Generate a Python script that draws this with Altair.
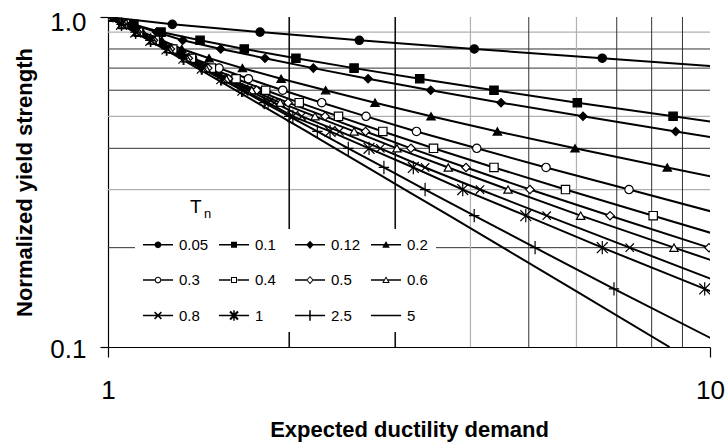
import altair as alt
import pandas as pd

FONT = "Liberation Sans, Arial, Helvetica, sans-serif"

# ---- data ------------------------------------------------------------------
series_names = ["0.05", "0.1", "0.12", "0.2", "0.3", "0.4", "0.5", "0.6",
                "0.8", "1", "2.5", "5"]

# normalized yield strength levels (one data point per level)
strength_levels = [1.0, 0.95, 0.9, 0.85, 0.8, 0.75, 0.7, 0.65, 0.6, 0.55,
                   0.5, 0.45, 0.4, 0.35, 0.3, 0.25, 0.2, 0.15, 0.1]

# expected ductility demand reached at each strength level, per period Tn
mu_005 = [1.0, 1.279, 1.789, 2.615, 4.059, 6.623, 11.1]
mu_010 = [1.0, 1.104, 1.225, 1.422, 1.684, 2.052, 2.563, 3.295, 4.377, 6.020,
          8.683, 13.02]
mu_012 = [1.0, 1.095, 1.204, 1.331, 1.539, 1.823, 2.193, 2.704, 3.436, 4.496,
          6.152, 8.770, 13.03]
mu_020 = [1.0, 1.067, 1.142, 1.228, 1.326, 1.472, 1.672, 1.939, 2.299, 2.777,
          3.440, 4.434, 5.967, 8.492, 12.76]
mu_030 = [1.0, 1.060, 1.126, 1.201, 1.286, 1.382, 1.529, 1.711, 1.951, 2.265,
          2.683, 3.254, 4.098, 5.341, 7.336, 10.67]
mu_040 = [1.0, 1.059, 1.124, 1.198, 1.281, 1.376, 1.485, 1.632, 1.828, 2.078,
          2.415, 2.861, 3.473, 4.377, 5.754, 8.047, 12.13]
mu_050 = [1.0, 1.057, 1.119, 1.190, 1.270, 1.360, 1.465, 1.586, 1.766, 1.991,
          2.294, 2.678, 3.186, 3.933, 5.023, 6.823, 9.961, 16.33]
mu_060 = [1.0, 1.055, 1.117, 1.186, 1.264, 1.352, 1.454, 1.572, 1.733, 1.932,
          2.207, 2.563, 3.020, 3.675, 4.618, 6.098, 8.714, 13.96]
mu_080 = [1.0, 1.054, 1.115, 1.182, 1.258, 1.345, 1.444, 1.558, 1.707, 1.888,
          2.098, 2.423, 2.834, 3.363, 4.149, 5.355, 7.356, 11.09]
mu_100 = [1.0, 1.053, 1.112, 1.178, 1.253, 1.337, 1.434, 1.545, 1.675, 1.845,
          2.028, 2.338, 2.714, 3.215, 3.884, 4.943, 6.623, 9.799, 17.22]
mu_250 = [1.0, 1.053, 1.111, 1.176, 1.250, 1.333, 1.429, 1.538, 1.667, 1.818,
          2.000, 2.227, 2.507, 2.873, 3.363, 4.058, 5.122, 6.926, 10.72]
mu_500 = [1.0, 1.051, 1.107, 1.169, 1.239, 1.317, 1.407, 1.509, 1.628, 1.767,
          1.935, 2.137, 2.384, 2.697, 3.113, 3.689, 4.532, 5.907, 8.566]

all_mu = [mu_005, mu_010, mu_012, mu_020, mu_030, mu_040, mu_050, mu_060,
          mu_080, mu_100, mu_250, mu_500]

# gridlines
grid_x_bold = [2, 3]
grid_x_dark = [5, 7, 8, 9]
grid_x_light = [4, 6]
grid_y_dark = [0.8, 0.7, 0.6, 0.4, 0.2]
grid_y_light = [0.9, 0.5, 0.3]

# ---- table -------------------------------------------------------------------
rows = []
for name, mus in zip(series_names, all_mu):
    for i, m in enumerate(mus):
        rows.append({"series": name, "idx": i, "mu": m,
                     "strength": strength_levels[i]})
df = pd.DataFrame(rows)

# ---- marker styles -------------------------------------------------------------
X_PATH = "M-1,-1L1,1M-1,1L1,-1"
AST_PATH = "M-1.3,-1.3L1.3,1.3M-1.3,1.3L1.3,-1.3M0,-1.6V1.6"
PLUS_PATH = "M-1.25,0H1.25M0,-1.6V1.6"
plot_shapes = ["circle", "square", "diamond", "triangle-up",
               "circle", "square", "diamond", "triangle-up",
               X_PATH, AST_PATH, PLUS_PATH, "circle"]
plot_fills = ["black"] * 4 + ["white"] * 4 + ["transparent"] * 4

# legend symbols, drawn as filled outlines: line segment + marker in the middle
FULL = "M-1,-0.1H3V0.1H-1Z"
SEG = "M-1,-0.1H0.55V0.1H-1ZM1.45,-0.1H3V0.1H1.45Z"
SEG_TRI = "M-1,-0.1H0.74V0.1H-1ZM1.26,-0.1H3V0.1H1.26Z"
CIRC = "M1.45,0A0.45,0.45,0,1,1,0.55,0A0.45,0.45,0,1,1,1.45,0Z"
CIRC_HOLE = "M1.3,0A0.3,0.3,0,1,0,0.7,0A0.3,0.3,0,1,0,1.3,0Z"
SQ = "M0.6,-0.4H1.4V0.4H0.6Z"
SQ_HOLE = "M0.73,-0.27V0.27H1.27V-0.27Z"
DIA = "M1,-0.55L1.5,0L1,0.55L0.5,0Z"
DIA_HOLE = "M1,-0.38L0.67,0L1,0.38L1.33,0Z"
TRI = "M1,-0.5L1.5,0.4H0.5Z"
TRI_HOLE = "M1,-0.22L0.72,0.27H1.28Z"
XD1 = "M0.62,-0.52L1.52,0.38L1.38,0.52L0.48,-0.38Z"
XD2 = "M0.48,0.38L1.38,-0.52L1.52,-0.38L0.62,0.52Z"
XD1B = "M0.57,-0.63L1.63,0.43L1.43,0.63L0.37,-0.43Z"
XD2B = "M0.37,0.43L1.43,-0.63L1.63,-0.43L0.57,0.63Z"
VBAR = "M0.9,-0.7H1.1V0.7H0.9Z"
legend_shapes = [
    FULL + CIRC,
    FULL + SQ,
    FULL + DIA,
    FULL + TRI,
    SEG + CIRC + CIRC_HOLE,
    SEG + SQ + SQ_HOLE,
    SEG + DIA + DIA_HOLE,
    SEG_TRI + TRI + TRI_HOLE,
    FULL + XD1 + XD2,
    FULL + XD1B + XD2B + VBAR,
    FULL + VBAR,
    FULL,
]

# ---- scales / axes ---------------------------------------------------------------
xscale = alt.Scale(type="log", domain=[1, 10], nice=False)
yscale = alt.Scale(type="log", domain=[0.1, 1], nice=False)

xaxis = alt.Axis(values=[1, 10], format="d", title="Expected ductility demand",
                 titleFont=FONT, titleFontSize=22, titleFontWeight="bold",
                 titleColor="black", titlePadding=16,
                 labelFont=FONT, labelFontSize=26, labelColor="black",
                 labelPadding=20, labelFlush=False, labelOverlap=False,
                 tickSize=10, tickColor="black", tickWidth=1.2,
                 domainColor="black", domainWidth=1.2, grid=False)
yaxis = alt.Axis(values=[0.1, 1], format=".1f", title="Normalized yield strength",
                 titleFont=FONT, titleFontSize=22, titleFontWeight="bold",
                 titleColor="black", titlePadding=13,
                 labelFont=FONT, labelFontSize=26, labelColor="black",
                 labelPadding=14, labelFlush=False, labelOverlap=False,
                 labelOffset={"condition": {"test": "datum.value == 1", "value": 5},
                              "value": 2},
                 tickSize=8, tickColor="black", tickWidth=1.2,
                 domainColor="black", domainWidth=1.2, grid=False)

xenc = alt.X("mu:Q", scale=xscale, axis=xaxis)
yenc = alt.Y("strength:Q", scale=yscale, axis=yaxis)


def vgrid(values, color, width):
    return alt.Chart(pd.DataFrame({"mu": values})).mark_rule(
        color=color, strokeWidth=width).encode(x=xenc)


def hgrid(values, color, width):
    return alt.Chart(pd.DataFrame({"strength": values})).mark_rule(
        color=color, strokeWidth=width).encode(y=yenc)


grid_layers = [
    hgrid(grid_y_light, "#b0b0b0", 1.2),
    hgrid(grid_y_dark, "#333333", 1),
    vgrid(grid_x_light, "#b0b0b0", 1.2),
    vgrid(grid_x_dark, "#333333", 1),
    vgrid(grid_x_bold, "#111111", 1.6),
]

lines = alt.Chart(df).mark_line(color="black", strokeWidth=2, clip=True).encode(
    x=xenc, y=yenc, detail="series:N", order="idx:Q")

markers = alt.Chart(df).transform_filter(
    "datum.mu <= 10.01 && datum.series != '5'"
).mark_point(stroke="black", strokeWidth=1.2, size=70, opacity=1, clip=True).encode(
    x=xenc, y=yenc,
    shape=alt.Shape("series:N", scale=alt.Scale(domain=series_names, range=plot_shapes),
                    legend=None),
    fill=alt.Fill("series:N", scale=alt.Scale(domain=series_names, range=plot_fills),
                  legend=None),
)

leg = alt.Legend(title=None, orient="none", legendX=27, legendY=212, columns=4,
                 direction="horizontal",
                 fillColor="white", padding=8, symbolSize=225,
                 symbolFillColor="black", symbolStrokeWidth=0,
                 labelFont=FONT, labelFontSize=15, labelColor="black",
                 labelOffset=21, columnPadding=10, rowPadding=19.5, gridAlign="all")

legend_layer = alt.Chart(df).transform_filter("datum.mu < 0").mark_point(
    filled=True, color="black", strokeWidth=0, opacity=1
).encode(
    x=xenc, y=yenc,
    shape=alt.Shape("series:N", scale=alt.Scale(domain=series_names, range=legend_shapes),
                    legend=leg),
)

# "T_n" caption above the legend
tn_big = alt.Chart(pd.DataFrame({"mu": [1.368], "strength": [0.2547], "t": ["T"]})).mark_text(
    align="left", baseline="alphabetic", fontSize=19, font=FONT, color="black"
).encode(x=xenc, y=yenc, text="t:N")
tn_sub = alt.Chart(pd.DataFrame({"mu": [1.444], "strength": [0.246], "t": ["n"]})).mark_text(
    align="left", baseline="alphabetic", fontSize=13, font=FONT, color="black"
).encode(x=xenc, y=yenc, text="t:N")

chart = alt.layer(
    *grid_layers, lines, markers, legend_layer, tn_big, tn_sub
).resolve_scale(
    shape="independent", fill="independent"
).properties(
    width=602, height=330,
    autosize=alt.AutoSizeParams(type="none"),
    padding={"left": 108, "top": 17, "right": 18, "bottom": 100},
    background="white",
).configure_view(stroke=None)

chart.save("out.html", embed_options={"renderer": "svg", "actions": False})
